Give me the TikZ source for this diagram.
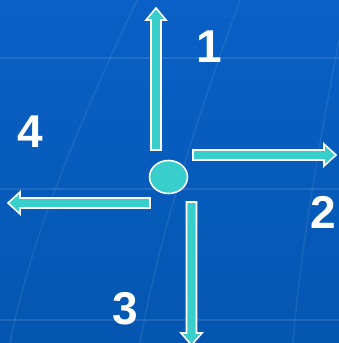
\documentclass[tikz,border=0pt]{standalone}
\usepackage{fontspec}
\setmainfont{Liberation Sans}
\usetikzlibrary{shapes.geometric}
\begin{document}
\begin{tikzpicture}[x=1pt,y=-1pt,
  blockarrow/.style={draw=white, line width=1.6pt, fill=arrowteal, line join=miter},
  numlabel/.style={text=white, font=\fontsize{46}{46}\selectfont\bfseries, inner sep=0pt},
  gridline/.style={draw=white, opacity=0.10, line width=2pt},
  diagline/.style={draw=white, opacity=0.08, line width=1.5pt}]
\definecolor{arrowteal}{RGB}{56,206,204}
\definecolor{bgtop}{RGB}{10,96,198}
\definecolor{bgbot}{RGB}{4,86,176}
\useasboundingbox (0,0) rectangle (339,343);
\shade[top color=bgtop, bottom color=bgbot] (0,0) rectangle (339,343);
% faint background lines
\draw[gridline] (0,58) -- (339,58);
\draw[gridline] (0,189) -- (339,189);
\draw[gridline] (0,320) -- (339,320);
\draw[diagline] (137,0) .. controls (80,120) and (30,240) .. (10,343);
\draw[diagline] (240,0) .. controls (200,110) and (160,230) .. (140,343);
\draw[diagline] (339,40) .. controls (320,140) and (300,250) .. (293,343);
% centre ellipse
\node[draw=white, line width=1.6pt, fill=arrowteal, ellipse, minimum width=38pt, minimum height=33pt, inner sep=0pt] (c) at (168.5,177) {};
% up arrow
\draw[blockarrow] (151,150) -- (151,20) -- (146,20) -- (156,8) -- (166,20) -- (161,20) -- (161,150) -- cycle;
% right arrow
\draw[blockarrow] (193,150) -- (324,150) -- (324,144) -- (336,155) -- (324,166) -- (324,160) -- (193,160) -- cycle;
% down arrow
\draw[blockarrow] (186.5,202) -- (186.5,333) -- (181,333) -- (191.5,345) -- (202,333) -- (196.5,333) -- (196.5,202) -- cycle;
% left arrow
\draw[blockarrow] (150,198) -- (20,198) -- (20,192) -- (8,203) -- (20,214) -- (20,208) -- (150,208) -- cycle;
% labels
\node[numlabel] (n1) at (209,47) {1};
\node[numlabel] (n2) at (323,212) {2};
\node[numlabel] (n3) at (125,309) {3};
\node[numlabel] (n4) at (30,132) {4};
\end{tikzpicture}
\end{document}
